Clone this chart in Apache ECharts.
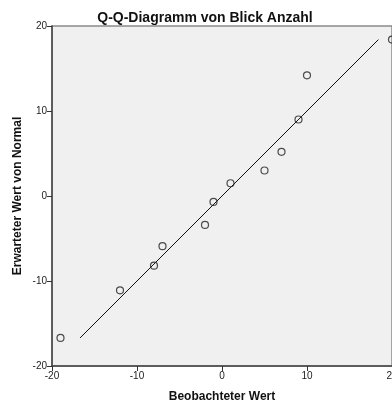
<!DOCTYPE html>
<html><head><meta charset="utf-8">
<script src="https://cdn.jsdelivr.net/npm/echarts@6/dist/echarts.min.js"></script>
<style>html,body{margin:0;padding:0;background:#fff}#c{width:392px;height:407px}</style>
</head><body><div id="c"></div>
<script>
const observed = [-19, -12, -8, -7, -2, -1, 1, 5, 7, 9, 10, 20];
const expected = [-16.7, -11.1, -8.2, -5.9, -3.4, -0.7, 1.5, 3.0, 5.2, 9.0, 14.2, 18.4];
const refLineX = [-16.7, 18.4];
const axisTicks = [-20, -10, 0, 10, 20];

const chart = echarts.init(document.getElementById('c'), null, {renderer: 'canvas'});
const font = 'Liberation Sans, Arial, sans-serif';
chart.setOption({
  animation: false,
  backgroundColor: '#ffffff',
  title: {
    text: 'Q-Q-Diagramm von Blick Anzahl',
    left: 200, top: 6, textAlign: 'center',
    textStyle: {fontFamily: font, fontSize: 14, fontWeight: 'bold', color: '#111'}
  },
  grid: {left: 52, top: 26, right: 0, bottom: 41, show: true,
         containLabel: false, outerBoundsMode: 'none',
         backgroundColor: '#f0f0f0', borderColor: '#8a8a8a', borderWidth: 1.5},
  xAxis: {
    type: 'value', min: axisTicks[0], max: axisTicks[axisTicks.length-1], interval: 10,
    name: 'Beobachteter Wert', nameLocation: 'middle', nameGap: 25,
    nameTextStyle: {fontFamily: font, fontSize: 12, fontWeight: 'bold', color: '#111'},
    axisLine: {onZero: false, lineStyle: {color: '#444', width: 1.5}},
    axisTick: {show: true, inside: false, length: 5, lineStyle: {color: '#333', width: 1}},
    axisLabel: {fontFamily: font, fontSize: 10, color: '#222', margin: 5, showMaxLabel: true, showMinLabel: true},
    splitLine: {show: false}
  },
  yAxis: {
    type: 'value', min: axisTicks[0], max: axisTicks[axisTicks.length-1], interval: 10,
    name: 'Erwarteter Wert von Normal', nameLocation: 'middle', nameGap: 28,
    nameMoveOverlap: false,
    nameTextStyle: {fontFamily: font, fontSize: 12, fontWeight: 'bold', color: '#111'},
    axisLine: {onZero: false, lineStyle: {color: '#444', width: 1.5}},
    axisTick: {show: true, inside: false, length: 5, lineStyle: {color: '#333', width: 1}},
    axisLabel: {fontFamily: font, fontSize: 10, color: '#222', margin: 5, showMaxLabel: true, showMinLabel: true},
    splitLine: {show: false}
  },
  series: [
    {
      type: 'line',
      data: refLineX.map(v => [v, v]),
      showSymbol: false, symbol: 'none',
      lineStyle: {color: '#111', width: 1},
      silent: true, z: 2
    },
    {
      type: 'scatter',
      data: observed.map((x, i) => [x, expected[i]]),
      symbol: 'circle', symbolSize: 7,
      clip: false,
      itemStyle: {color: 'rgba(0,0,0,0)', borderColor: '#222', borderWidth: 1.2},
      z: 3
    }
  ]
});
</script>
</body></html>
